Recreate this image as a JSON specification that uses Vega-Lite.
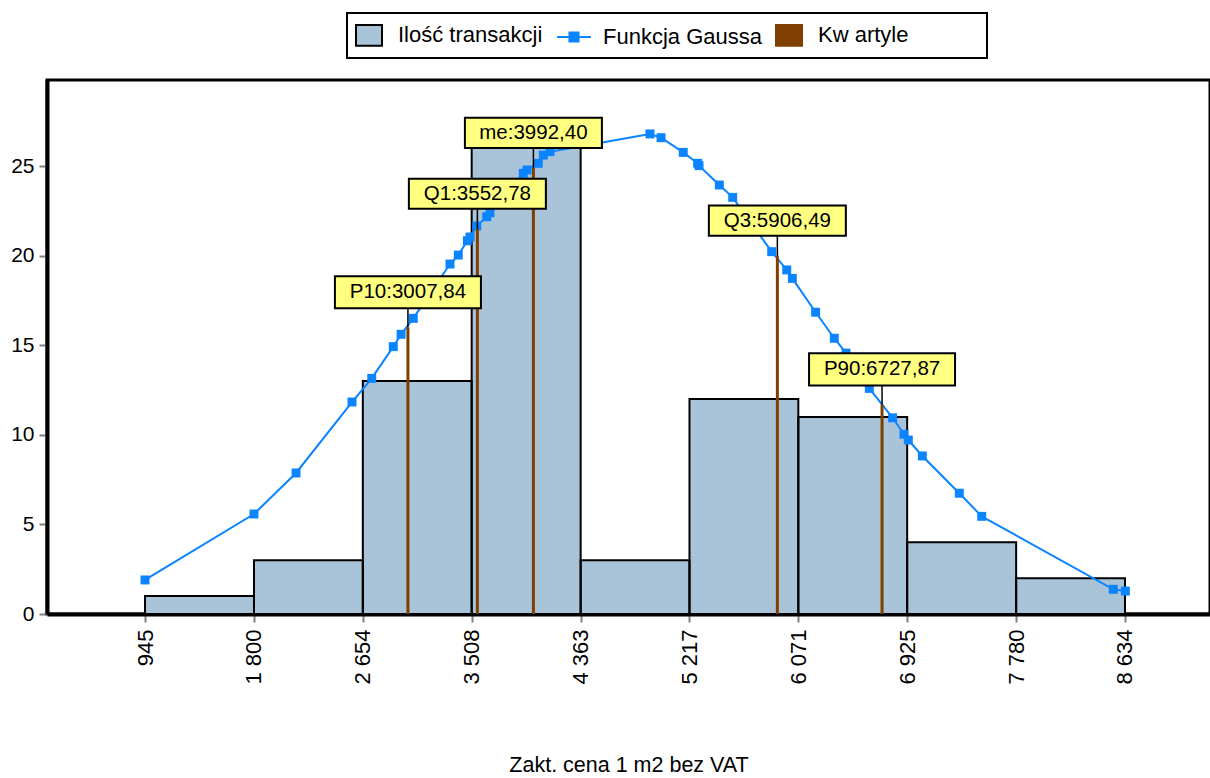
{
  "$schema": "https://vega.github.io/schema/vega-lite/v6.json",
  "width": 1163,
  "height": 534,
  "autosize": {"type": "none"},
  "padding": {"left": 47, "top": 80, "right": 0, "bottom": 164},
  "config": {
    "font": "Liberation Sans",
    "view": {"stroke": "black", "strokeWidth": 3},
    "legend": {"strokeColor": "black", "strokeWidth": 2}
  },
  "datasets": {
    "bins": [
      {"start": 945, "end": 1800, "count": 1},
      {"start": 1800, "end": 2654, "count": 3},
      {"start": 2654, "end": 3508, "count": 13},
      {"start": 3508, "end": 4363, "count": 26},
      {"start": 4363, "end": 5217, "count": 3},
      {"start": 5217, "end": 6071, "count": 12},
      {"start": 6071, "end": 6925, "count": 11},
      {"start": 6925, "end": 7780, "count": 4},
      {"start": 7780, "end": 8634, "count": 2}
    ],
    "gauss": [
      {"x": 945, "y": 1.9}, {"x": 1800, "y": 5.58}, {"x": 2130, "y": 7.87}, {"x": 2569, "y": 11.83},
      {"x": 2724, "y": 13.15}, {"x": 2893, "y": 14.92}, {"x": 2954, "y": 15.61}, {"x": 3050, "y": 16.5},
      {"x": 3338, "y": 19.53}, {"x": 3403, "y": 20.03}, {"x": 3474, "y": 20.83}, {"x": 3495, "y": 21.04},
      {"x": 3548, "y": 21.65}, {"x": 3626, "y": 22.17}, {"x": 3652, "y": 22.39}, {"x": 3913, "y": 24.59},
      {"x": 3942, "y": 24.78}, {"x": 4031, "y": 25.15}, {"x": 4070, "y": 25.61}, {"x": 4123, "y": 25.8},
      {"x": 4907, "y": 26.79}, {"x": 4994, "y": 26.58}, {"x": 5168, "y": 25.76}, {"x": 5281, "y": 25.15},
      {"x": 5292, "y": 25.02}, {"x": 5451, "y": 23.94}, {"x": 5556, "y": 23.25}, {"x": 5862, "y": 20.22},
      {"x": 5980, "y": 19.2}, {"x": 6024, "y": 18.73}, {"x": 6207, "y": 16.84}, {"x": 6353, "y": 15.39},
      {"x": 6445, "y": 14.56}, {"x": 6628, "y": 12.59}, {"x": 6811, "y": 10.95}, {"x": 6900, "y": 10.03},
      {"x": 6934, "y": 9.71}, {"x": 7044, "y": 8.82}, {"x": 7334, "y": 6.74}, {"x": 7510, "y": 5.45},
      {"x": 8542, "y": 1.38}, {"x": 8637, "y": 1.28}
    ],
    "quart": [
      {"x": 3007.84, "top": 16.0, "label": "P10:3007,84"},
      {"x": 3552.78, "top": 21.5, "label": "Q1:3552,78"},
      {"x": 3992.4, "top": 24.9, "label": "me:3992,40"},
      {"x": 5906.49, "top": 20.0, "label": "Q3:5906,49"},
      {"x": 6727.87, "top": 11.7, "label": "P90:6727,87"}
    ]
  },
  "layer": [
    {
      "data": {"name": "bins"},
      "mark": {"type": "rect"},
      "encoding": {
        "x": {
          "field": "start", "type": "quantitative",
          "scale": {"domain": [176, 9301], "nice": false, "zero": false},
          "axis": {
            "values": [945, 1800, 2654, 3508, 4363, 5217, 6071, 6925, 7780, 8634],
            "labelAngle": -90,
            "labelExpr": "replace(format(datum.value, ','), ',', ' ')",
            "labelFontSize": 22, "labelColor": "black", "labelPadding": 7,
            "domainColor": "black", "domainWidth": 4,
            "tickColor": "#808080", "tickWidth": 2, "tickSize": 8,
            "grid": false,
            "title": "Zakt. cena 1 m2 bez VAT",
            "titleFontSize": 21.5, "titleFontWeight": "normal", "titleColor": "black",
            "titlePadding": 70
          }
        },
        "x2": {"field": "end"},
        "y": {
          "field": "count", "type": "quantitative",
          "scale": {"domain": [0, 29.8], "nice": false},
          "axis": {
            "values": [0, 5, 10, 15, 20, 25],
            "labelFontSize": 21, "labelColor": "black", "labelPadding": 5,
            "domainColor": "black", "domainWidth": 4,
            "tickColor": "#808080", "tickWidth": 2, "tickSize": 8,
            "grid": false, "title": null
          }
        },
        "y2": {"datum": 0},
        "color": {
          "datum": "Ilość transakcji", "type": "nominal",
          "scale": {"domain": ["Ilość transakcji", "Funkcja Gaussa", "Kw artyle"], "range": ["#a9c4d9", "#0a84ff", "#7f3f00"]},
          "legend": {
            "orient": "none", "legendX": 300, "legendY": -67,
            "direction": "horizontal",
            "title": " ", "titleOrient": "right", "titlePadding": 71,
            "labelFontSize": 22, "labelColor": "black", "labelOffset": 15,
            "columnPadding": 10, "padding": 8,
            "symbolSize": 676,
            "symbolType": {"expr": "datum.value == 'Funkcja Gaussa' ? 'M-1.3,0H1.3M-0.35,-0.35H0.35V0.35H-0.35Z' : 'M-1,-0.8H1V0.8H-1Z'"},
            "symbolStrokeColor": {"expr": "datum.value == 'Ilość transakcji' ? 'black' : (datum.value == 'Funkcja Gaussa' ? '#0a84ff' : '#7f3f00')"},
            "symbolStrokeWidth": 2
          }
        }
      }
    },
    {
      "data": {"name": "bins"},
      "mark": {"type": "rect", "filled": false, "stroke": "black", "strokeWidth": 2},
      "encoding": {
        "x": {"field": "start", "type": "quantitative"},
        "x2": {"field": "end"},
        "y": {"field": "count", "type": "quantitative"},
        "y2": {"datum": 0}
      }
    },
    {
      "data": {"name": "gauss"},
      "mark": {"type": "line", "color": "#0a84ff", "strokeWidth": 2, "point": {"shape": "square", "size": 80, "filled": true, "color": "#0a84ff"}},
      "encoding": {
        "x": {"field": "x", "type": "quantitative"},
        "y": {"field": "y", "type": "quantitative"}
      }
    },
    {
      "data": {"name": "quart"},
      "mark": {"type": "rule", "strokeWidth": 3, "color": "#7f3f00"},
      "encoding": {
        "x": {"field": "x", "type": "quantitative"},
        "y": {"field": "top", "type": "quantitative"},
        "y2": {"datum": 0}
      }
    },
    {
      "data": {"name": "quart"},
      "mark": {"type": "rule", "strokeWidth": 1.5, "color": "black", "y2Offset": -20},
      "encoding": {
        "x": {"field": "x", "type": "quantitative"},
        "y": {"field": "top", "type": "quantitative"},
        "y2": {"field": "top"}
      }
    },
    {
      "data": {"name": "quart"},
      "mark": {"type": "point", "shape": "M-1,-0.22H1V0.22H-1Z", "filled": true, "fill": "#ffff80", "stroke": "black", "strokeWidth": 2, "opacity": 1, "yOffset": -35},
      "encoding": {
        "x": {"field": "x", "type": "quantitative"},
        "y": {"field": "top", "type": "quantitative"},
        "size": {"condition": {"test": "length(datum.label) > 10", "value": 21316}, "value": 18769}
      }
    },
    {
      "data": {"name": "quart"},
      "mark": {"type": "text", "fontSize": 20.5, "color": "black", "align": "center", "baseline": "middle", "yOffset": -35},
      "encoding": {
        "x": {"field": "x", "type": "quantitative"},
        "y": {"field": "top", "type": "quantitative"},
        "text": {"field": "label"}
      }
    }
  ]
}
